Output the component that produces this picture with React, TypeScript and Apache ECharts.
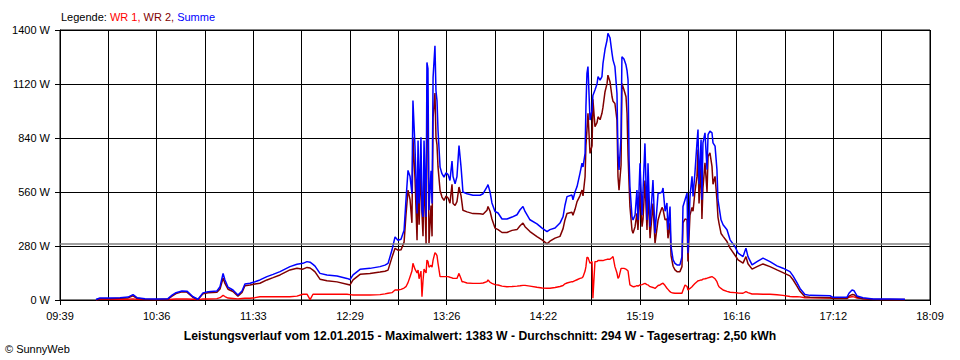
import React, { useEffect, useRef } from "react";
import * as echarts from "echarts";

// Time axis: minutes after 09:39 (axis runs 09:39 .. 18:09 = 510 min)
const tickLabels = ["09:39", "10:36", "11:33", "12:29", "13:26", "14:22", "15:19", "16:16", "17:12", "18:09"];
const AXIS_MINUTES = 510;
const GRID_STEPS = 18;
const AVERAGE = 294;
const yTicks = [0, 280, 560, 840, 1120, 1400];

const minutes = [
  21.1, 23.4, 29.3, 35.2, 39.9, 42.8, 45.1, 49.8, 56.9, 63.3, 65.7, 68.0, 71.5, 74.4, 78.0, 80.9, 83.8, 86.8, 92.0, 93.8,
  95.6, 96.7, 98.5, 101.4, 104.3, 106.7, 108.4, 111.4, 114.3, 117.2, 121.3, 124.9, 129.0, 134.8, 138.9, 142.4, 144.8, 146.6, 148.3, 149.5,
  152.4, 156.5, 162.4, 168.2, 170.0, 171.8, 175.9, 181.7, 187.6, 190.5, 192.3, 194.6, 196.4, 198.1, 199.9, 201.7, 202.8, 204.0, 205.2, 206.3,
  206.9, 208.1, 209.3, 209.9, 210.5, 211.6, 212.2, 212.8, 213.4, 214.6, 215.1, 215.7, 216.3, 217.5, 218.1, 218.7, 219.8, 220.4, 221.0, 221.6,
  222.8, 223.9, 225.1, 226.3, 227.5, 228.6, 229.8, 230.4, 231.6, 232.7, 233.9, 235.1, 235.7, 236.2, 238.6, 242.1, 246.2, 248.0, 250.3, 250.9,
  252.1, 253.2, 255.0, 256.8, 259.1, 262.0, 265.0, 267.9, 269.7, 271.4, 272.6, 275.5, 279.6, 282.6, 285.5, 287.2, 290.2, 293.1, 294.9, 296.0,
  297.2, 300.1, 300.7, 301.9, 303.1, 304.8, 306.0, 306.6, 307.8, 308.3, 308.9, 309.5, 310.7, 311.9, 312.4, 313.6, 314.8, 315.4, 316.6, 317.7,
  318.3, 319.5, 320.7, 321.2, 322.4, 323.6, 324.2, 325.3, 326.5, 327.1, 327.7, 328.9, 329.4, 330.6, 331.8, 332.4, 333.0, 333.6, 334.1, 335.3,
  335.9, 337.1, 338.2, 338.8, 340.0, 341.2, 341.8, 342.9, 344.1, 344.7, 345.9, 347.6, 348.8, 350.6, 351.7, 352.9, 353.5, 354.7, 355.8, 356.4,
  357.6, 358.2, 359.4, 360.5, 361.7, 363.4, 364.6, 365.2, 366.4, 367.6, 368.1, 369.3, 370.5, 371.1, 372.2, 373.4, 374.0, 374.6, 375.8, 376.3,
  376.9, 378.1, 379.3, 379.9, 381.0, 382.2, 382.8, 384.0, 385.1, 385.7, 386.3, 387.5, 388.7, 391.0, 392.8, 395.7, 397.5, 400.4, 402.1, 403.3,
  405.7, 408.6, 412.1, 416.2, 420.3, 423.8, 427.9, 429.7, 432.0, 433.8, 436.7, 439.7, 451.4, 453.1, 461.3, 462.5, 464.3, 465.5, 467.2, 470.7,
  476.6, 486.6, 495.3,
];

// WR 2 (dark red)
const wr2 = [
  2, 7, 7, 9, 11, 22, 9, 4, 3, 5, 20, 33, 42, 41, 13, 2, 32, 38, 40, 57,
  114, 86, 56, 44, 20, 39, 74, 78, 83, 87, 104, 116, 130, 156, 165, 160, 169, 166, 155, 146,
  108, 100, 94, 82, 78, 104, 133, 138, 145, 149, 155, 221, 268, 258, 260, 300, 440, 570, 520, 400,
  844, 630, 310, 672, 390, 694, 448, 331, 667, 291, 1025, 1000, 295, 490, 330, 947, 1073, 845, 804, 690,
  568, 534, 516, 539, 529, 502, 600, 500, 490, 510, 586, 540, 500, 465, 457, 448, 447, 445, 465, 485,
  460, 420, 373, 365, 350, 350, 361, 365, 385, 399, 380, 355, 329, 312, 291, 305, 321, 330, 370, 415,
  449, 455, 440, 470, 510, 540, 570, 540, 639, 800, 881, 968, 760, 800, 1040, 899, 920, 950, 935, 968,
  1000, 1080, 1123, 1166, 1132, 1054, 1030, 1019, 933, 639, 570, 700, 1123, 1090, 1054, 968, 750, 600, 484, 363,
  346, 380, 449, 363, 560, 380, 420, 620, 363, 560, 320, 500, 294, 415, 450, 480, 470, 416, 420, 320,
  400, 230, 175, 156, 147, 147, 173, 400, 420, 416, 200, 440, 480, 460, 560, 641, 780, 500, 700, 420,
  580, 711, 560, 745, 763, 693, 600, 641, 520, 430, 399, 345, 330, 303, 269, 232, 208, 191, 225, 188,
  160, 173, 187, 173, 156, 142, 125, 105, 72, 45, 17, 14, 12, 8, 8, 20, 28, 27, 14, 6,
  3, 2, 2,
];

// WR 1 (red)
const wr1 = [
  1, 3, 3, 3, 4, 6, 3, 2, 2, 2, 4, 5, 5, 5, 4, 2, 5, 5, 7, 12,
  24, 18, 10, 8, 6, 8, 9, 9, 12, 17, 17, 17, 17, 17, 20, 30, 30, 2, 30, 30,
  30, 30, 30, 30, 28, 26, 26, 26, 28, 32, 35, 38, 52, 52, 55, 62, 69, 90, 121, 150,
  190, 160, 140, 155, 110, 150, 17, 100, 160, 140, 207, 200, 170, 180, 170, 207, 245, 240, 230, 190,
  121, 121, 121, 121, 121, 118, 115, 112, 112, 112, 138, 110, 95, 95, 88, 86, 86, 88, 95, 104,
  92, 86, 80, 78, 72, 69, 70, 72, 74, 76, 76, 72, 66, 62, 61, 61, 65, 70, 75, 84,
  88, 95, 95, 100, 105, 112, 115, 121, 150, 173, 221, 221, 190, 200, 9, 199, 199, 205, 205, 205,
  204, 208, 211, 211, 211, 220, 225, 173, 140, 112, 120, 164, 164, 164, 160, 155, 150, 110, 78, 72,
  69, 70, 75, 72, 78, 80, 82, 86, 80, 78, 69, 65, 60, 75, 78, 85, 87, 75, 61, 55,
  43, 40, 36, 35, 35, 35, 35, 50, 78, 70, 52, 60, 69, 75, 85, 95, 100, 100, 104, 104,
  108, 110, 113, 115, 118, 121, 118, 110, 95, 80, 69, 60, 52, 45, 40, 38, 36, 35, 43, 38,
  31, 31, 30, 30, 27, 24, 18, 17, 17, 16, 12, 11, 10, 9, 9, 14, 17, 16, 10, 7,
  3, 2, 2,
];

// Summe (blue)
const summe = [
  3, 10, 10, 12, 15, 28, 12, 6, 5, 7, 25, 38, 47, 46, 17, 4, 37, 43, 47, 69,
  138, 104, 66, 52, 26, 47, 83, 87, 95, 104, 121, 133, 147, 173, 185, 190, 199, 196, 185, 176,
  138, 130, 124, 112, 106, 130, 159, 164, 173, 181, 190, 259, 327, 310, 315, 362, 517, 672, 640, 551,
  1034, 793, 448, 827, 500, 844, 465, 431, 827, 431, 1232, 1200, 465, 670, 500, 1154, 1318, 1085, 1034, 880,
  689, 655, 637, 660, 650, 620, 720, 640, 603, 640, 801, 689, 620, 560, 551, 543, 543, 551, 586, 598,
  560, 503, 459, 451, 420, 420, 430, 442, 468, 485, 459, 416, 395, 373, 355, 365, 373, 399, 432, 490,
  536, 544, 520, 560, 588, 657, 709, 690, 760, 1000, 1175, 1210, 933, 985, 1060, 1089, 1120, 1158, 1140, 1158,
  1227, 1300, 1348, 1383, 1360, 1279, 1244, 1210, 1071, 760, 674, 847, 1261, 1250, 1218, 1190, 1140, 726, 588, 432,
  415, 440, 570, 415, 709, 440, 570, 812, 415, 709, 380, 622, 346, 553, 555, 560, 581, 460, 503, 364,
  485, 277, 208, 190, 182, 182, 225, 485, 520, 555, 243, 537, 641, 537, 659, 815, 884, 600, 832, 520,
  815, 867, 676, 858, 876, 867, 815, 798, 676, 520, 485, 416, 390, 364, 312, 277, 243, 225, 269, 225,
  182, 199, 217, 199, 177, 165, 147, 125, 90, 60, 29, 24, 22, 14, 14, 35, 52, 48, 21, 12,
  5, 5, 4,
];

const TITLE =
  "Leistungsverlauf vom 12.01.2015 - Maximalwert: 1383 W - Durchschnitt: 294 W - Tagesertrag: 2,50 kWh";
const COPYRIGHT = "\u00A9 SunnyWeb";

const FONT = '"Liberation Sans", Arial, sans-serif';
const STEP_SECONDS = (AXIS_MINUTES * 60) / GRID_STEPS;

function toPoints(values: number[]) {
  return minutes.map((m, i) => [Math.round(m * 60), values[i]]);
}

export default function App() {
  const ref = useRef<HTMLDivElement>(null);

  useEffect(() => {
    document.body.style.margin = "0";
    if (!ref.current) return;
    const chart = echarts.init(ref.current, undefined, { renderer: "svg" });
    const lineSeries = (name: string, values: number[], color: string, width: number, extra: any = {}) => ({
      name,
      type: "line",
      data: toPoints(values),
      showSymbol: false,
      symbol: "none",
      silent: true,
      lineStyle: { color, width },
      itemStyle: { color },
      ...extra,
    });

    chart.setOption({
      animation: false,
      backgroundColor: "#ffffff",
      textStyle: { fontFamily: FONT },
      grid: {
        left: 60,
        right: 30,
        top: 30,
        bottom: 60,
        show: true,
        borderColor: "#000",
        borderWidth: 1,
        backgroundColor: "transparent",
      },
      xAxis: {
        type: "value",
        min: 0,
        max: AXIS_MINUTES * 60,
        interval: STEP_SECONDS,
        axisLine: { show: true, onZero: false, lineStyle: { color: "#000", width: 1 } },
        axisTick: { show: true, length: 5, lineStyle: { color: "#000", width: 1 } },
        splitLine: { show: true, lineStyle: { color: "#000", width: 1 } },
        axisLabel: {
          color: "#000",
          fontSize: 11,
          fontFamily: FONT,
          margin: 10,
          showMinLabel: true,
          showMaxLabel: true,
          formatter: (v: number) => {
            const i = Math.round(v / STEP_SECONDS);
            return i % 2 === 0 ? tickLabels[i / 2] ?? "" : "";
          },
        },
      },
      yAxis: {
        type: "value",
        min: yTicks[0],
        max: yTicks[yTicks.length - 1],
        interval: yTicks[1] - yTicks[0],
        axisLine: { show: true, lineStyle: { color: "#000", width: 1 } },
        axisTick: { show: true, length: 5, lineStyle: { color: "#000", width: 1 } },
        splitLine: { show: true, lineStyle: { color: "#000", width: 1 } },
        axisLabel: {
          color: "#000",
          fontSize: 11,
          fontFamily: FONT,
          margin: 10,
          formatter: (v: number) => `${v} W`,
        },
      },
      series: [
        lineSeries("WR 1", wr1, "#ff0000", 1.4, {
          markLine: {
            silent: true,
            symbol: "none",
            label: { show: false },
            lineStyle: { color: "#808080", width: 1.5, type: "solid" },
            data: [{ yAxis: AVERAGE }],
          },
        }),
        lineSeries("WR 2", wr2, "#800000", 1.5),
        lineSeries("Summe", summe, "#0000ff", 1.5),
      ],
      graphic: [
        {
          type: "text",
          x: 61,
          y: 17,
          silent: true,
          style: {
            text: "{k|Legende: }{r|WR 1, }{d|WR 2, }{b|Summe}",
            font: "11px " + FONT,
            verticalAlign: "middle",
            align: "left",
            rich: {
              k: { fill: "#000000", fontSize: 11, fontFamily: FONT },
              r: { fill: "#ff0000", fontSize: 11, fontFamily: FONT },
              d: { fill: "#800000", fontSize: 11, fontFamily: FONT },
              b: { fill: "#0000ff", fontSize: 11, fontFamily: FONT },
            },
          },
        },
        {
          type: "text",
          x: 480,
          y: 336,
          silent: true,
          style: {
            text: TITLE,
            font: "bold 12.2px " + FONT,
            fill: "#000",
            align: "center",
            verticalAlign: "middle",
          },
        },
        {
          type: "text",
          x: 5,
          y: 349,
          silent: true,
          style: {
            text: COPYRIGHT,
            font: "11px " + FONT,
            fill: "#000",
            align: "left",
            verticalAlign: "middle",
          },
        },
      ],
    });
    return () => chart.dispose();
  }, []);

  return <div ref={ref} style={{ width: 960, height: 360 }} />;
}
